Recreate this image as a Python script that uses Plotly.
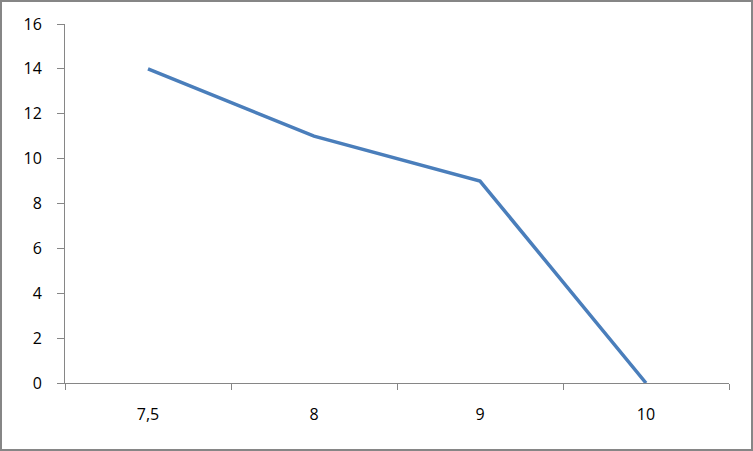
import plotly.graph_objects as go

categories = ["7,5", "8", "9", "10"]
values = [14, 11, 9, 0]
y_ticks = [0, 2, 4, 6, 8, 10, 12, 14, 16]

axis_color = "#868686"
fig = go.Figure()
fig.add_trace(go.Scatter(
    x=categories, y=values, mode="lines",
    line=dict(color="#4A7EBB", width=3.5),
    hoverinfo="skip", showlegend=False,
))
fig.update_layout(
    width=753, height=451,
    margin=dict(l=65, r=24, t=24, b=68),
    paper_bgcolor="white", plot_bgcolor="white",
    font=dict(family="'Open Sans', sans-serif", size=16, color="black"),
    shapes=[dict(type="rect", xref="paper", yref="paper",
                 x0=-64/664, x1=1+23/664, y0=-67/359, y1=1+23/359,
                 line=dict(color=axis_color, width=2))],
)
fig.update_xaxes(
    type="category", range=[-0.5, 3.5],
    showline=True, linecolor=axis_color, linewidth=1,
    ticks="outside", ticklen=6, tickcolor=axis_color, tickson="boundaries",
    showgrid=False, zeroline=False, ticklabelstandoff=17,
)
fig.update_yaxes(
    range=[0, 16], tickvals=y_ticks,
    showline=True, linecolor=axis_color, linewidth=1,
    ticks="outside", ticklen=7, tickcolor=axis_color,
    showgrid=False, zeroline=False, ticklabelstandoff=12,
)
fig.write_html(
    "out.html",
    config={"displayModeBar": False, "staticPlot": True},
    post_script="document.body.style.margin='0';document.body.style.padding='0';document.body.style.overflow='hidden';",
)
